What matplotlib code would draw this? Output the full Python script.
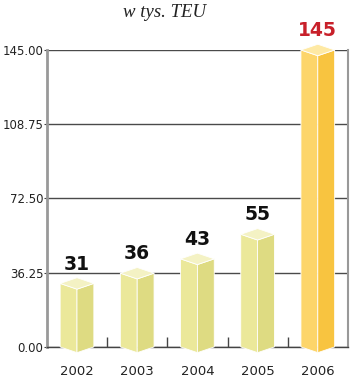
import matplotlib
matplotlib.use("Agg")
import matplotlib.pyplot as plt
from matplotlib.patches import Polygon
import numpy as np

years = ["2002", "2003", "2004", "2005", "2006"]
values = [31, 36, 43, 55, 145]
yticks = [0.0, 36.25, 72.5, 108.75, 145.0]

# face colours: left, right, top
olive = ("#ebe89a", "#dedb82", "#f4f2c4")
gold = ("#fdd56a", "#f8c440", "#fee9a4")

fig = plt.figure(figsize=(3.5, 3.92), dpi=100)
ax = fig.add_axes([0.134, 0.115, 0.86, 0.7575])

half = 0.28   # half width of a prism
dep = 2.8     # vertical skew of the front edge

for i, v in enumerate(values):
    cl, cr, ct = gold if i == 4 else olive
    x0, xc, x1 = i - half, i, i + half
    left = [(x0, 0), (xc, -dep), (xc, v - dep), (x0, v)]
    right = [(xc, -dep), (x1, 0), (x1, v), (xc, v - dep)]
    top = [(x0, v), (xc, v - dep), (x1, v), (xc, v + dep)]
    for pts, c in ((left, cl), (right, cr), (top, ct)):
        ax.add_patch(Polygon(pts, closed=True, facecolor=c, edgecolor="white",
                             lw=0.6, zorder=3, clip_on=False))
    ax.annotate(str(v), (i, v + dep), xytext=(0, 3), textcoords="offset points",
                ha="center", va="bottom", fontsize=13.5, fontweight="bold",
                color="#c8202a" if i == 4 else "#111111", zorder=4,
                annotation_clip=False)

ax.set_xlim(-0.5, 4.5)
ax.set_ylim(0, 145)
ax.set_yticks(yticks)
ax.set_yticklabels(["%.2f" % t for t in yticks], fontsize=8.5, color="#222222")
ax.set_xticks(range(len(years)))
ax.set_xticklabels(years, fontsize=9.5, color="#222222")
ax.set_xticks([0.5, 1.5, 2.5, 3.5], minor=True)
ax.tick_params(axis="x", which="major", length=0, pad=13)
ax.tick_params(axis="x", which="minor", direction="in", length=7, color="#444444", width=1)
ax.tick_params(axis="y", length=2, color="#444444", pad=0.5)

ax.yaxis.grid(True, color="#4a4a4a", lw=1, zorder=1)
ax.set_axisbelow(True)
ax.spines["top"].set_visible(False)
ax.spines["left"].set_color("#999999")
ax.spines["left"].set_linewidth(2)
ax.spines["right"].set_color("#999999")
ax.spines["right"].set_linewidth(1.5)
ax.spines["bottom"].set_color("#444444")
ax.spines["bottom"].set_linewidth(1)

fig.text(0.47, 0.968, "w tys. TEU", ha="center", va="center", fontsize=13.5,
         fontstyle="italic", family="Liberation Serif", color="#222222")

fig.savefig("out.png", dpi=100)
